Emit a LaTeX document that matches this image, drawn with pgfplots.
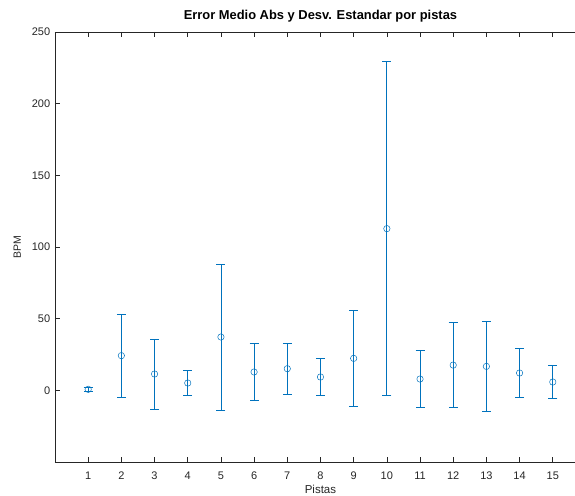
\documentclass[border=0pt]{standalone}
\usepackage{pgfplots}
\pgfplotsset{compat=1.18}
\usepackage{fontspec}
\setmainfont{Liberation Sans}
\definecolor{mblue}{HTML}{0072BD}
\definecolor{axgray}{HTML}{262626}
\begin{document}
\begin{tikzpicture}
\begin{axis}[
  name=ax,
  scale only axis,
  width=520pt, height=430pt,
  xmin=0, xmax=15.67, ymin=-50, ymax=250,
  axis x line*=box, axis y line*=left,
  xtick={1,...,15}, ytick={0,50,...,250},
  tick align=inside,
  major tick length=5pt,
  axis line style={axgray, line width=0.6pt},
  every tick/.style={axgray, line width=0.6pt},
  tick label style={font=\fontsize{11}{13}\selectfont, text=axgray},
  xticklabel style={yshift=-6pt},
  yticklabel style={xshift=-1.3pt},
  /pgf/number format/assume math mode=true,
  title={\bfseries Error Medio Abs y Desv. Estandar por pistas},
  title style={font=\fontsize{12.9}{15}\selectfont, at={(axis description cs:0.5105,1)}, anchor=base, yshift=6pt},
  xlabel={Pistas}, ylabel={BPM},
  xlabel style={font=\fontsize{11.5}{14}\selectfont, text=axgray, at={(axis description cs:0.5105,0)}, anchor=base, yshift=-31pt},
  ylabel style={font=\fontsize{10.5}{12}\selectfont, text=axgray, at={(axis description cs:0,0.5)}, anchor=base, yshift=34pt},
]
\addplot[mblue, line width=0.6pt, only marks, mark=o, mark size=3.2pt,
  mark options={line width=0.5pt},
  error bars/.cd, y dir=both, y explicit,
  error bar style={line width=0.7pt, mblue},
  error mark options={rotate=90, mark size=4.5pt, line width=0.7pt, mblue}]
coordinates {
(1,0.7) +- (0,1.7)
(2,24.2) +- (0,29.0)
(3,11.4) +- (0,24.4)
(4,5.1) +- (0,8.6)
(5,37.2) +- (0,50.9)
(6,12.8) +- (0,20.1)
(7,15.1) +- (0,17.6)
(8,9.3) +- (0,13.0)
(9,22.3) +- (0,33.4)
(10,112.8) +- (0,116.4)
(11,7.9) +- (0,19.7)
(12,17.6) +- (0,29.7)
(13,16.7) +- (0,31.4)
(14,12.1) +- (0,17.2)
(15,5.8) +- (0,11.5)
};
\end{axis}
\pgfresetboundingbox
\path[use as bounding box] ([xshift=-55pt,yshift=-33pt]ax.south west) rectangle ([yshift=32pt]ax.north east);
\end{tikzpicture}
\end{document}
